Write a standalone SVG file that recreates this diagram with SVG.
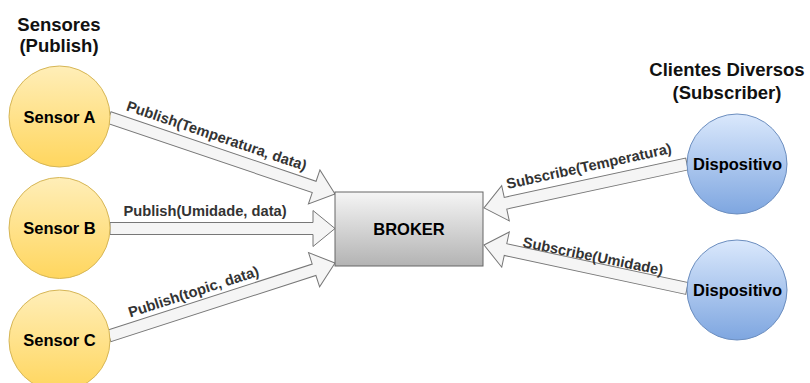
<svg xmlns="http://www.w3.org/2000/svg" width="810" height="383" viewBox="0 0 810 383">
  <defs>
    <linearGradient id="gYellow" x1="0" y1="0" x2="0" y2="1">
      <stop offset="0" stop-color="#ffeeb8"/>
      <stop offset="1" stop-color="#ffd65e"/>
    </linearGradient>
    <linearGradient id="gBlue" x1="0" y1="0" x2="0" y2="1">
      <stop offset="0" stop-color="#dae8fc"/>
      <stop offset="1" stop-color="#7ea6e0"/>
    </linearGradient>
    <linearGradient id="gGray" x1="0" y1="0" x2="0" y2="1">
      <stop offset="0" stop-color="#f5f5f5"/>
      <stop offset="1" stop-color="#b3b3b3"/>
    </linearGradient>
  </defs>
  <style>
    .sensor { fill: url(#gYellow); stroke: #d6b656; stroke-width: 1; }
    .device { fill: url(#gBlue); stroke: #6c8ebf; stroke-width: 1; }
    .broker { fill: url(#gGray); stroke: #666666; stroke-width: 1; }
    .flex { fill: #f5f5f5; stroke: #777777; stroke-width: 1; stroke-linejoin: miter; }
    .node-label { font-family: "Liberation Sans", Arial, sans-serif; font-weight: bold; font-size: 16.5px; fill: #000; text-anchor: middle; }
    .title { font-family: "Liberation Sans", Arial, sans-serif; font-weight: bold; font-size: 18.5px; fill: #111; text-anchor: middle; }
    .edge-label { font-family: "Liberation Sans", Arial, sans-serif; font-weight: bold; font-size: 14.7px; fill: #333333; text-anchor: middle; }
  </style>
  <rect width="810" height="383" fill="#ffffff"/>

  <g id="titles">
    <text class="title" x="59" y="31">Sensores</text>
    <text class="title" x="59" y="52">(Publish)</text>
    <text class="title" x="727" y="76">Clientes Diversos</text>
    <text class="title" x="727" y="99">(Subscriber)</text>
  </g>

  <g id="connectors">
    <g id="edge-a">
      <path class="flex" transform="translate(109,117.5) rotate(18.7)" d="M0,-6 H216.6 V-18 L238.6,0 L216.6,18 V6 H0 Z"/>
      <text class="edge-label" transform="translate(215,140.5) rotate(18.7)">Publish(Temperatura, data)</text>
    </g>
    <g id="edge-b">
      <path class="flex" transform="translate(110,228.5)" d="M0,-6 H203 V-18 L225,0 L203,18 V6 H0 Z"/>
      <text class="edge-label" x="205" y="216">Publish(Umidade, data)</text>
    </g>
    <g id="edge-c">
      <path class="flex" transform="translate(109,336) rotate(-17.9)" d="M0,-6 H215.5 V-18 L237.5,0 L215.5,18 V6 H0 Z"/>
      <text class="edge-label" transform="translate(195,296.5) rotate(-17.9)">Publish(topic, data)</text>
    </g>
    <g id="edge-s1">
      <path class="flex" transform="translate(687,164) rotate(167.8)" d="M0,-6 H185.7 V-18 L207.7,0 L185.7,18 V6 H0 Z"/>
      <text class="edge-label" transform="translate(590,171) rotate(-12.3)">Subscribe(Temperatura)</text>
    </g>
    <g id="edge-s2">
      <path class="flex" transform="translate(687,288.5) rotate(-167.9)" d="M0,-6 H185.6 V-18 L207.6,0 L185.6,18 V6 H0 Z"/>
      <text class="edge-label" transform="translate(592,261) rotate(11.5)">Subscribe(Umidade)</text>
    </g>
  </g>

  <g id="sensor-a">
    <circle class="sensor" cx="59.5" cy="116.5" r="50.5"/>
    <text class="node-label" x="59.5" y="123">Sensor A</text>
  </g>
  <g id="sensor-b">
    <circle class="sensor" cx="59.5" cy="228" r="50.5"/>
    <text class="node-label" x="59.5" y="234">Sensor B</text>
  </g>
  <g id="sensor-c">
    <circle class="sensor" cx="59.5" cy="340.5" r="50.5"/>
    <text class="node-label" x="59.5" y="346">Sensor C</text>
  </g>
  <g id="broker">
    <rect class="broker" x="335" y="192" width="148" height="74"/>
    <text class="node-label" x="409" y="235">BROKER</text>
  </g>
  <g id="dispositivo-1">
    <circle class="device" cx="737" cy="164" r="50"/>
    <text class="node-label" x="737.5" y="170">Dispositivo</text>
  </g>
  <g id="dispositivo-2">
    <circle class="device" cx="737" cy="290" r="50"/>
    <text class="node-label" x="737.5" y="296">Dispositivo</text>
  </g>
</svg>
